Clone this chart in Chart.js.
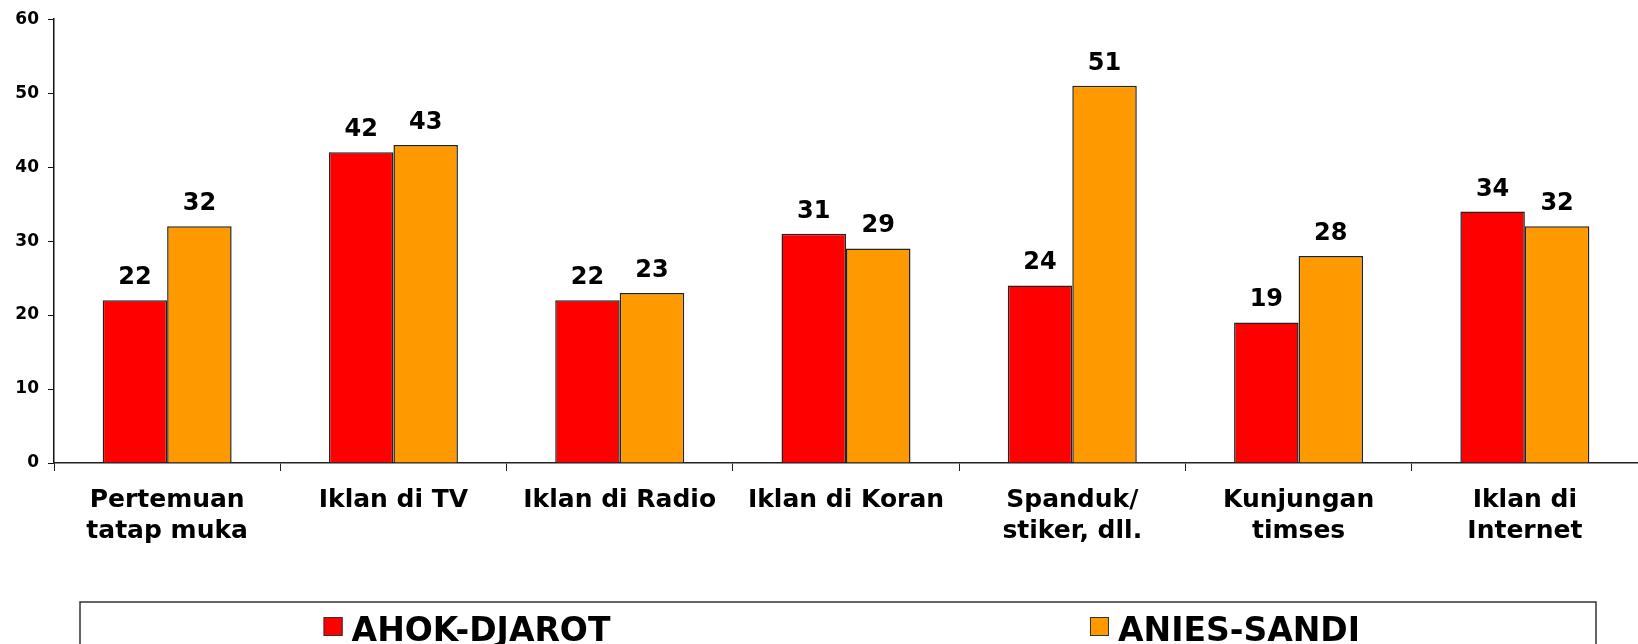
<!DOCTYPE html>
<html>
<head>
<meta charset="utf-8">
<script src="https://cdn.jsdelivr.net/npm/chart.js@4.4.1/dist/chart.umd.min.js"></script>
<style>
  html, body { margin: 0; padding: 0; background: #fff; }
  #wrap { width: 1638px; height: 644px; position: relative; }
</style>
</head>
<body>
<div id="wrap"><canvas id="myChart" width="1638" height="644"></canvas></div>
<script>
// data
var categories = [
    ['Pertemuan', 'tatap muka'],
    'Iklan di TV',
    'Iklan di Radio',
    'Iklan di Koran',
    ['Spanduk/', 'stiker, dll.'],
    ['Kunjungan', 'timses'],
    ['Iklan di', 'Internet']
];
var ahokDjarot = [22, 42, 22, 31, 24, 19, 34];
var aniesSandi = [32, 43, 23, 29, 51, 28, 32];
var yTicks = [0, 10, 20, 30, 40, 50, 60];

var fontFam = '"DejaVu Sans", Verdana, sans-serif';

// value labels on top of bars
var valueLabels = {
    id: 'valueLabels',
    afterDatasetsDraw: function(chart){
        var ctx = chart.ctx;
        ctx.save();
        ctx.font = 'bold 24px ' + fontFam;
        ctx.fillStyle = '#000';
        ctx.textAlign = 'center';
        ctx.textBaseline = 'alphabetic';
        chart.data.datasets.forEach(function(ds, i){
            chart.getDatasetMeta(i).data.forEach(function(bar, j){
                ctx.fillText(ds.data[j], bar.x, bar.y - 16);
            });
        });
        ctx.restore();
    }
};

// boxed legend at the bottom (cut off by the canvas edge like the original)
var boxLegend = {
    id: 'boxLegend',
    afterDraw: function(chart){
        var ctx = chart.ctx;
        var left = 80, right = 1596, top = 602;
        ctx.save();
        ctx.strokeStyle = '#333';
        ctx.lineWidth = 1.5;
        ctx.strokeRect(left, top, right - left, 80);
        ctx.font = 'bold 33px ' + fontFam;
        ctx.textBaseline = 'alphabetic';
        var half = (right - left) / 2;
        chart.data.datasets.forEach(function(ds, i){
            var tw = ctx.measureText(ds.label).width;
            var itemW = 19 + 9 + tw;
            var x = left + half * i + (half - itemW) / 2 + 8;
            ctx.fillStyle = ds.backgroundColor;
            ctx.fillRect(x, 617, 19, 19);
            ctx.strokeStyle = '#333';
            ctx.lineWidth = 1;
            ctx.strokeRect(x + 0.5, 617.5, 18, 18);
            ctx.fillStyle = '#000';
            ctx.fillText(ds.label, x + 28, 641);
        });
        ctx.restore();
    }
};

var ctx = document.getElementById('myChart').getContext('2d');
var myChart = new Chart(ctx, {
    type: 'bar',
    data: {
        labels: categories,
        datasets: [{
            label: 'AHOK-DJAROT',
            data: ahokDjarot,
            backgroundColor: '#FF0000',
            borderColor: '#222',
            borderWidth: 1.5,
            categoryPercentage: 0.57,
            barPercentage: 1
        },
        {
            label: 'ANIES-SANDI',
            data: aniesSandi,
            backgroundColor: '#FF9900',
            borderColor: '#222',
            borderWidth: 1.5,
            categoryPercentage: 0.57,
            barPercentage: 1
        }]
    },
    options: {
        responsive: false,
        animation: false,
        layout: { padding: { top: 18, right: 0, left: 0, bottom: 0 } },
        plugins: {
            legend: { display: false },
            tooltip: { enabled: false }
        },
        scales: {
            y: {
                min: 0,
                max: 60,
                afterBuildTicks: function(axis){
                    axis.ticks = yTicks.map(function(v){ return { value: v }; });
                },
                afterFit: function(axis){ axis.width = 54; },
                border: { color: '#111', width: 1.5 },
                grid: { drawOnChartArea: false, tickLength: 6, color: '#111' },
                ticks: {
                    padding: 9,
                    color: '#000',
                    font: { family: fontFam, size: 17, weight: 'bold' }
                }
            },
            x: {
                afterFit: function(axis){ axis.height = 181; },
                border: { color: '#222', width: 1.5 },
                grid: { drawOnChartArea: false, tickLength: 8, offset: true, color: '#222' },
                ticks: {
                    padding: 14,
                    maxRotation: 0,
                    autoSkip: false,
                    color: '#000',
                    font: { family: fontFam, size: 25, weight: 'bold', lineHeight: 1.24 }
                }
            }
        }
    },
    plugins: [valueLabels, boxLegend]
});
</script>
</body>
</html>
